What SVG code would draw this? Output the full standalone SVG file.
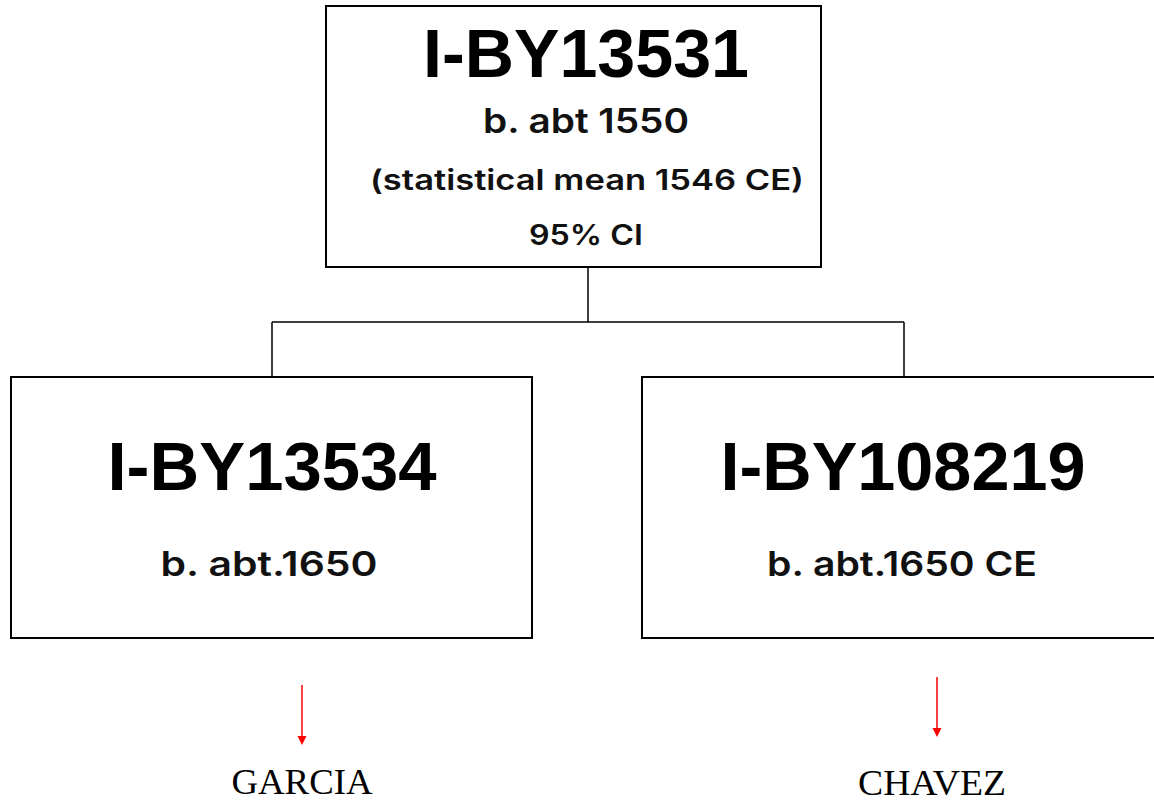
<svg xmlns="http://www.w3.org/2000/svg" width="1154" height="801" viewBox="0 0 1154 801">
<style>
.box{fill:#fff;stroke:#000;stroke-width:2}
.big{font-family:"Liberation Sans",Arial,sans-serif;font-weight:bold;font-size:68px;text-anchor:middle;fill:#000}
.mid{font-family:"Inter","Liberation Sans",sans-serif;font-weight:600;font-size:34px;text-anchor:middle;fill:#111}
.sm{font-family:"Inter","Liberation Sans",sans-serif;font-weight:600;font-size:28px;text-anchor:middle;fill:#111}
.name{font-family:"Liberation Serif","Times New Roman",serif;font-size:36px;text-anchor:middle;fill:#000}
.conn{fill:none;stroke:#000;stroke-width:1.5}
.red{stroke:#f00;stroke-width:1.5;fill:none}
.head{fill:#f00}
</style>
<rect width="1154" height="801" fill="#fff"/>
<g id="connectors">
<path class="conn" d="M588,267 V322 M272,322 H904 M272,322 V377 M904,322 V377"/>
<line class="red" x1="302" y1="685" x2="302" y2="738"/>
<path class="head" d="M297.5,736 L306.5,736 L302,745 Z"/>
<line class="red" x1="937" y1="677" x2="937" y2="730"/>
<path class="head" d="M932.5,728 L941.5,728 L937,737 Z"/>
</g>
<g id="root">
<rect class="box" x="326" y="6" width="495" height="261"/>
<text class="big" x="586" y="77" textLength="326" lengthAdjust="spacingAndGlyphs">I-BY13531</text>
<text class="mid" x="586" y="133" textLength="206" lengthAdjust="spacingAndGlyphs">b. abt 1550</text>
<text class="sm" x="587" y="190" textLength="434" lengthAdjust="spacingAndGlyphs">(statistical mean 1546 CE)</text>
<text class="sm" x="586" y="245" textLength="114" lengthAdjust="spacingAndGlyphs">95% CI</text>
</g>
<g id="left">
<rect class="box" x="11" y="377" width="521" height="261"/>
<text class="big" x="272" y="490" textLength="329" lengthAdjust="spacingAndGlyphs">I-BY13534</text>
<text class="mid" x="269" y="576" textLength="217" lengthAdjust="spacingAndGlyphs">b. abt.1650</text>
</g>
<g id="right">
<rect class="box" x="642" y="377" width="520" height="261"/>
<text class="big" x="903" y="490" textLength="365" lengthAdjust="spacingAndGlyphs">I-BY108219</text>
<text class="mid" x="902" y="576" textLength="270" lengthAdjust="spacingAndGlyphs">b. abt.1650 CE</text>
</g>
<g id="garcia">
<text class="name" x="302" y="794" textLength="141" lengthAdjust="spacingAndGlyphs">GARCIA</text>
</g>
<g id="chavez">
<text class="name" x="932" y="795" textLength="148" lengthAdjust="spacingAndGlyphs">CHAVEZ</text>
</g>
</svg>
